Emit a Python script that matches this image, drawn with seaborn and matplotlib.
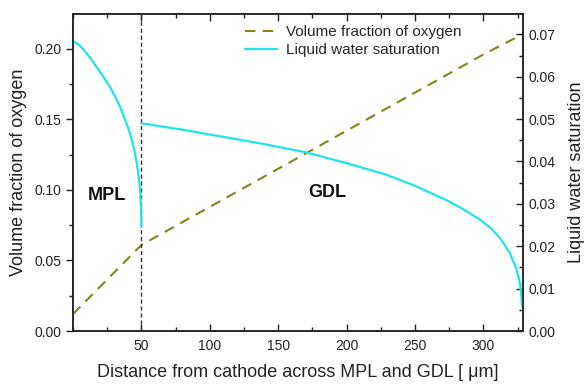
import matplotlib
matplotlib.use("Agg")
import matplotlib.pyplot as plt
from matplotlib.lines import Line2D
from matplotlib.ticker import MultipleLocator, FormatStrFormatter
import pandas as pd
import seaborn as sns

# Oxygen volume fraction across MPL (0-50 um) and GDL (50-329 um)
oxy_x = [0, 50, 100, 150, 200, 250, 300, 329]
oxy_y = [0.012, 0.061, 0.088, 0.115, 0.142, 0.169, 0.196, 0.2106]

# Liquid water saturation in the MPL
mpl_x = [0, 4, 7.5, 12, 17.3, 22, 27, 31, 34.4, 38, 41.7, 44.5, 46.6, 48, 49, 49.7, 50]
mpl_s = [0.0684, 0.0676, 0.0665, 0.0647, 0.0623, 0.0601, 0.0576, 0.0552, 0.0529,
         0.0500, 0.0466, 0.0432, 0.0396, 0.0365, 0.0333, 0.0290, 0.0246]

# Liquid water saturation in the GDL
gdl_x = [50, 80, 110, 140, 171, 200, 228, 249, 273, 285, 297, 305, 312,
         319, 324, 326, 327.5, 328.3]
gdl_s = [0.0490, 0.0475, 0.0458, 0.0441, 0.0421, 0.0396, 0.0370, 0.0344,
         0.0309, 0.0288, 0.0264, 0.0244, 0.0220, 0.0186, 0.0148, 0.0124,
         0.0095, 0.0057]

boundary_x = 50
region_labels = ["MPL", "GDL"]
series_labels = ["Volume fraction of oxygen", "Liquid water saturation"]

sns.set_style("ticks")
plt.rcParams["font.family"] = ["Liberation Sans", "DejaVu Sans"]

oxy_color = "#858514"
water_color = "#1ee6e6"
ink = "#222222"

fig = plt.figure(figsize=(5.86, 3.84), dpi=100)
ax = fig.add_axes([0.1246, 0.138, 0.768, 0.8255])
ax2 = ax.twinx()

oxy = pd.DataFrame({"x": oxy_x, "y": oxy_y})
mpl = pd.DataFrame({"x": mpl_x, "s": mpl_s})
gdl = pd.DataFrame({"x": gdl_x, "s": gdl_s})

sns.lineplot(data=oxy, x="x", y="y", ax=ax, color=oxy_color, lw=1.5,
             linestyle=(0, (5, 3.5)), legend=False)
sns.lineplot(data=mpl, x="x", y="s", ax=ax2, color=water_color, lw=1.6,
             legend=False)
sns.lineplot(data=gdl, x="x", y="s", ax=ax2, color=water_color, lw=1.6,
             legend=False)

# MPL / GDL interface
ax.axvline(boundary_x, color="#333333", lw=1.0, linestyle=(0, (3, 2)))

ax.set_xlim(0, 329)
ax.set_ylim(0, 0.2247)
ax2.set_ylim(0, 0.0748)

ax.set_xticks([50, 100, 150, 200, 250, 300])
ax.xaxis.set_minor_locator(MultipleLocator(25))
ax.yaxis.set_major_locator(MultipleLocator(0.05))
ax.yaxis.set_minor_locator(MultipleLocator(0.025))
ax2.yaxis.set_major_locator(MultipleLocator(0.01))
ax2.yaxis.set_minor_locator(MultipleLocator(0.005))
ax.yaxis.set_major_formatter(FormatStrFormatter("%.2f"))
ax2.yaxis.set_major_formatter(FormatStrFormatter("%.2f"))

ax.tick_params(axis="x", which="both", direction="in", top=True,
               labelsize=10, colors=ink, width=1)
ax.tick_params(axis="x", which="major", length=5, pad=6)
ax.tick_params(axis="x", which="minor", length=3)
ax.tick_params(axis="y", which="both", direction="out", right=False,
               labelsize=10, colors=ink, width=1)
ax.tick_params(axis="y", which="major", length=5)
ax.tick_params(axis="y", which="minor", length=3)
ax2.tick_params(axis="y", which="both", direction="in",
                labelsize=10, colors=ink, width=1)
ax2.tick_params(axis="y", which="major", length=5, pad=4)
ax2.tick_params(axis="y", which="minor", length=3)

for a in (ax, ax2):
    for sp in a.spines.values():
        sp.set_visible(True)
        sp.set_linewidth(1.1)
        sp.set_color(ink)

ax.set_xlabel("Distance from cathode across MPL and GDL [ μm]", fontsize=13,
              color=ink, labelpad=8)
ax.set_ylabel("Volume fraction of oxygen", fontsize=13, color=ink, labelpad=5)
ax2.set_ylabel("Liquid water saturation", fontsize=13, color=ink, labelpad=9)

ax.text(25, 0.096, region_labels[0], fontsize=13, fontweight="bold",
        ha="center", va="center", color="#111111")
ax.text(186, 0.098, region_labels[1], fontsize=13, fontweight="bold",
        ha="center", va="center", color="#111111")

handles = [
    Line2D([], [], color=oxy_color, lw=1.5, linestyle=(0, (5, 3.5))),
    Line2D([], [], color=water_color, lw=1.6),
]
ax2.legend(handles, series_labels, loc="upper left",
           bbox_to_anchor=(0.382, 0.965), frameon=False, fontsize=11,
           handlelength=2.1, handletextpad=0.6, labelspacing=0.25,
           borderpad=0, borderaxespad=0)

fig.savefig("out.png", dpi=100)
